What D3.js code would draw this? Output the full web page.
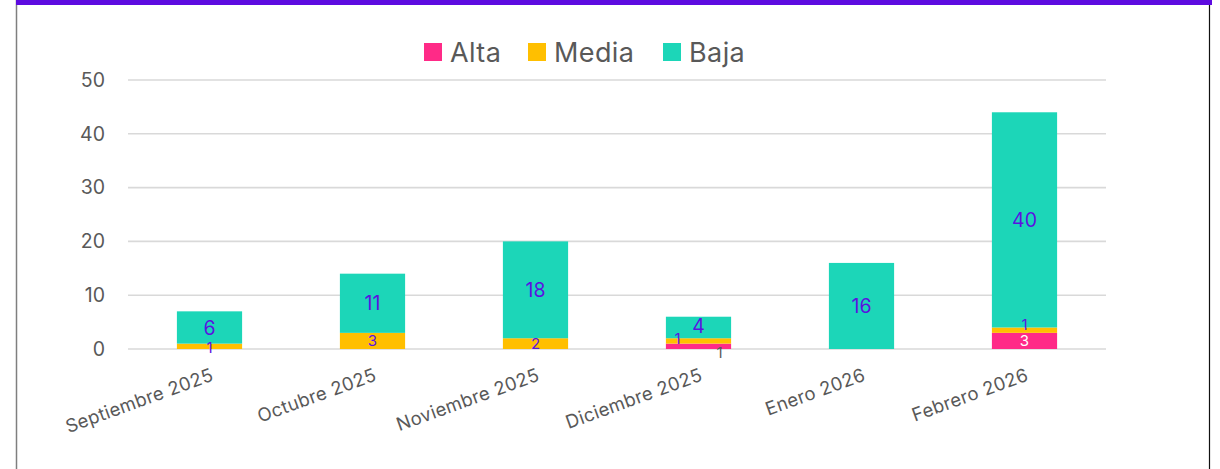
<!DOCTYPE html>
<html>
<head>
<meta charset="utf-8">
<script src="https://cdn.jsdelivr.net/npm/d3@7"></script>
<style>
  html, body { margin: 0; padding: 0; background: #fff; }
  svg { display: block; font-family: "Inter", "Open Sans", sans-serif; }
</style>
</head>
<body>
<div id="chart"></div>
<script>
// Chart data
const months = ["Septiembre 2025", "Octubre 2025", "Noviembre 2025", "Diciembre 2025", "Enero 2026", "Febrero 2026"];
const alta = [0, 0, 0, 1, 0, 3];
const media = [1, 3, 2, 1, 0, 1];
const baja = [6, 11, 18, 4, 16, 40];
const yTicks = [0, 10, 20, 30, 40, 50];
const seriesNames = ["Alta", "Media", "Baja"];
const colors = ["#ff2a87", "#ffbf00", "#1cd6b8"];

const w = 1220;
const h = 469;
const margin = { left: 128, right: 114, top: 80, bottom: 120 };

const svg = d3.select("#chart")
              .append("svg")
              .attr("width", w)
              .attr("height", h);

// frame: purple top strip and side borders
svg.append("line").attr("x1", 16.5).attr("x2", 16.5).attr("y1", 0).attr("y2", h)
   .attr("stroke", "#7f7f7f").attr("stroke-width", 1.5);
svg.append("line").attr("x1", 1209.5).attr("x2", 1209.5).attr("y1", 0).attr("y2", h)
   .attr("stroke", "#111").attr("stroke-width", 1.2);
svg.append("rect").attr("x", 16).attr("y", 0).attr("width", 1196).attr("height", 5)
   .attr("fill", "#5d0be0");

// table built from arrays
const rows = months.map((m, i) => ({ month: m, Alta: alta[i], Media: media[i], Baja: baja[i] }));
const stacked = d3.stack().keys(seriesNames)(rows);

const xScale = d3.scaleBand()
                 .domain(months)
                 .range([margin.left, w - margin.right])
                 .paddingInner(0.6)
                 .paddingOuter(0.3);
const yScale = d3.scaleLinear()
                 .domain([0, 50])
                 .range([349, 80]);

// gridlines
svg.append("g")
   .selectAll("line")
   .data(yTicks)
   .enter()
   .append("line")
   .attr("x1", margin.left)
   .attr("x2", w - margin.right)
   .attr("y1", d => yScale(d))
   .attr("y2", d => yScale(d))
   .attr("stroke", "#d9d9d9")
   .attr("stroke-width", 1.6);

// y axis labels
const yAxis = d3.axisLeft(yScale).tickValues(yTicks).tickSize(0).tickPadding(0);
const yG = svg.append("g").attr("transform", "translate(105,0)").call(yAxis);
yG.select(".domain").remove();
yG.selectAll("text").attr("font-size", 19.5).attr("fill", "#595959")
  .attr("font-family", "Inter, 'Open Sans', sans-serif");

// bars
const groups = svg.append("g")
   .selectAll("g")
   .data(stacked)
   .enter()
   .append("g")
   .attr("fill", (d, i) => colors[i]);

groups.selectAll("rect")
   .data(d => d)
   .enter()
   .append("rect")
   .attr("x", d => xScale(d.data.month))
   .attr("y", d => yScale(d[1]))
   .attr("width", xScale.bandwidth())
   .attr("height", d => yScale(d[0]) - yScale(d[1]));

// data labels
const labels = [];
stacked.forEach((s, si) => {
    s.forEach((d, i) => {
        const v = d[1] - d[0];
        if (v === 0) return;
        const cx = xScale(d.data.month) + xScale.bandwidth() / 2;
        let cy = (yScale(d[0]) + yScale(d[1])) / 2;
        let dx = 0;
        let size = si === 2 ? 19.5 : 15;
        let fill = "#5a14e0";
        if (si === 0) fill = v >= 2 ? "#ffffff" : "#595959";
        // small segments get nudged apart like the original
        if (si === 0 && v < 2) { dx = 21; cy += 6; }
        if (si === 1 && alta[i] > 0) {
            if (alta[i] < 2) { dx = -21; cy -= 2; } else { cy -= 6; }
        }
        if (si === 1 && alta[i] === 0 && v < 2) cy += 1;
        if (si === 2 && v < 5) cy -= 2;
        labels.push({ x: cx + dx, y: cy, text: v, size: size, fill: fill });
    });
});

svg.append("g")
   .selectAll("text")
   .data(labels)
   .enter()
   .append("text")
   .attr("x", d => d.x)
   .attr("y", d => d.y)
   .attr("dy", "0.36em")
   .attr("text-anchor", "middle")
   .attr("font-size", d => d.size)
   .attr("fill", d => d.fill)
   .text(d => d.text);

// x axis labels, rotated
svg.append("g")
   .selectAll("text")
   .data(months)
   .enter()
   .append("text")
   .attr("transform", d => `translate(${xScale(d) + xScale.bandwidth() / 2 + 5},${380}) rotate(-20)`)
   .attr("text-anchor", "end")
   .attr("font-size", 18.5)
   .attr("letter-spacing", 0.3)
   .attr("fill", "#595959")
   .text(d => d);

// legend
const legendX = [424, 528, 663];
const legend = svg.append("g")
   .selectAll("g")
   .data(seriesNames)
   .enter()
   .append("g")
   .attr("transform", (d, i) => `translate(${legendX[i]},43)`);

legend.append("rect")
      .attr("width", 18)
      .attr("height", 18)
      .attr("fill", (d, i) => colors[i]);
legend.append("text")
      .attr("x", 26)
      .attr("y", 9)
      .attr("dy", "0.36em")
      .attr("font-size", 27)
      .attr("letter-spacing", 0.4)
      .attr("fill", "#595959")
      .text(d => d);
</script>
</body>
</html>
